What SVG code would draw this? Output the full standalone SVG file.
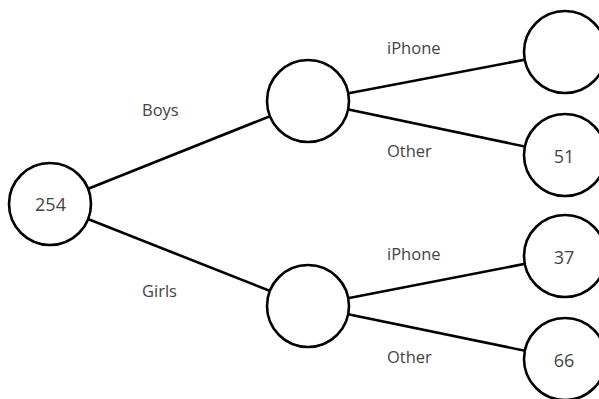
<svg xmlns="http://www.w3.org/2000/svg" width="599" height="399" viewBox="0 0 599 399">
<style>
.edge{stroke:#000;stroke-width:2.6;fill:none}
.node{fill:#fff;stroke:#000;stroke-width:2.6}
.lbl{font-family:"Open Sans","Liberation Sans",sans-serif;font-size:16.5px;fill:#444}
.num{font-family:"Open Sans","Liberation Sans",sans-serif;font-size:18px;fill:#444;text-anchor:middle}
</style>
<rect width="599" height="399" fill="#fff"/>
<g id="connectors">
<line class="edge" x1="50" y1="204" x2="308" y2="101"/>
<line class="edge" x1="50" y1="204" x2="308" y2="306"/>
<line class="edge" x1="308" y1="101" x2="565" y2="52"/>
<line class="edge" x1="308" y1="101" x2="565" y2="155"/>
<line class="edge" x1="308" y1="306" x2="565" y2="256"/>
<line class="edge" x1="308" y1="306" x2="565" y2="359"/>
</g>
<g id="labels">
<text class="lbl" x="142" y="116">Boys</text>
<text class="lbl" x="142" y="297">Girls</text>
<text class="lbl" x="387" y="54">iPhone</text>
<text class="lbl" x="387" y="157">Other</text>
<text class="lbl" x="387" y="260">iPhone</text>
<text class="lbl" x="387" y="363">Other</text>
</g>
<g id="root"><circle class="node" cx="50" cy="204" r="41"/><text class="num" x="50.5" y="211">254</text></g>
<g id="boys"><circle class="node" cx="308" cy="101" r="41"/></g>
<g id="girls"><circle class="node" cx="308" cy="306" r="41"/></g>
<g id="boys-iphone"><circle class="node" cx="565" cy="52" r="41"/></g>
<g id="boys-other"><circle class="node" cx="565" cy="155" r="41"/><text class="num" x="564" y="163">51</text></g>
<g id="girls-iphone"><circle class="node" cx="565" cy="256" r="41"/><text class="num" x="564" y="264">37</text></g>
<g id="girls-other"><circle class="node" cx="565" cy="359" r="41"/><text class="num" x="564" y="367">66</text></g>
</svg>
